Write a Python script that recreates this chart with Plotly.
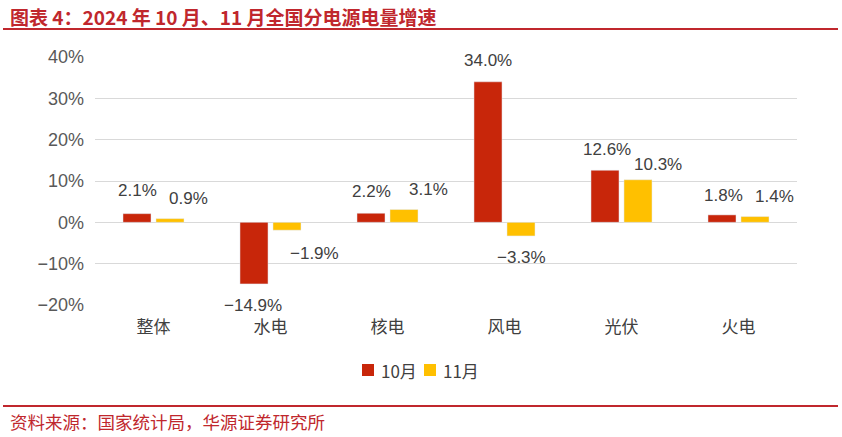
import plotly.graph_objects as go

categories = ["整体", "水电", "核电", "风电", "光伏", "火电"]
oct_values = [2.1, -14.9, 2.2, 34.0, 12.6, 1.8]
nov_values = [0.9, -1.9, 3.1, -3.3, 10.3, 1.4]
series_names = ["10月", "11月"]
y_ticks = [-20, -10, 0, 10, 20, 30, 40]
y_tick_text = ["\u221220%", "\u221210%", "0%", "10%", "20%", "30%", "40%"]

# style: label nudges (pixels) as placed in the reference
oct_dx = [0, -1, 0, 0, 2, 1.5]
oct_dy = [23, -21.5, 22, 21.5, 21, 19]
nov_dx = [18.5, 27.5, 24.5, 0, 19.5, 19.5]
nov_dy = [20, -23, 20, -22, 15.5, 20.5]

RED = "#C8260A"
YEL = "#FFC000"
TITLE_RED = "#C0272D"
NUM_FONT = "Liberation Sans, Arial, Noto Sans CJK SC, sans-serif"
CJK_FONT = "Noto Sans CJK SC, Liberation Sans, sans-serif"

W, H = 842, 437
plot_l, plot_r, plot_t, plot_b = 95, 797, 57, 305


def px_to_paper_x(px):
    return (px - plot_l) / (plot_r - plot_l)


def px_to_paper_y(py):
    return (plot_b - py) / (plot_b - plot_t)


colors = [RED, YEL]
fig = go.Figure()
fig.add_trace(go.Bar(x=categories, y=oct_values, name=series_names[0], marker_color=colors[0]))
fig.add_trace(go.Bar(x=categories, y=nov_values, name=series_names[1], marker_color=colors[1]))


def fmt(v):
    s = f"{abs(v):.1f}%"
    return ("\u2212" + s) if v < 0 else s


annotations = []
for vals, base, dxs, dys in ((oct_values, -16.5, oct_dx, oct_dy), (nov_values, 16.5, nov_dx, nov_dy)):
    for c, v, dx, dy in zip(categories, vals, dxs, dys):
        annotations.append(dict(
            x=c, y=v, xref="x", yref="y", text=fmt(v), showarrow=False,
            xanchor="center", yanchor="middle", xshift=base + dx, yshift=dy,
            font=dict(family=NUM_FONT, size=17, color="#404040")))

annotations.append(dict(
    x=px_to_paper_x(8), y=px_to_paper_y(17), xref="paper", yref="paper",
    text="<b>图表 4：2024 年 10 月、11 月全国分电源电量增速</b>",
    showarrow=False, xanchor="left", yanchor="middle",
    font=dict(family=CJK_FONT, size=19, color=TITLE_RED)))
annotations.append(dict(
    x=px_to_paper_x(8), y=px_to_paper_y(421), xref="paper", yref="paper",
    text="资料来源：国家统计局，华源证券研究所",
    showarrow=False, xanchor="left", yanchor="middle",
    font=dict(family=CJK_FONT, size=17.5, color=TITLE_RED)))

shapes = []
for yy in (29, 406):
    shapes.append(dict(type="line", xref="paper", yref="paper",
                       x0=px_to_paper_x(3), x1=px_to_paper_x(838),
                       y0=px_to_paper_y(yy), y1=px_to_paper_y(yy),
                       line=dict(color=TITLE_RED, width=2)))

# manual legend (squares + labels) to match the reference's tight spacing
legend_x0 = [362, 424]
legend_y = 370
for name, col, lx in zip(series_names, colors, legend_x0):
    shapes.append(dict(type="rect", xref="paper", yref="paper",
                       x0=px_to_paper_x(lx), x1=px_to_paper_x(lx + 12),
                       y0=px_to_paper_y(legend_y + 6), y1=px_to_paper_y(legend_y - 6),
                       fillcolor=col, line=dict(width=0)))
    annotations.append(dict(
        x=px_to_paper_x(lx + 17), y=px_to_paper_y(legend_y), xref="paper", yref="paper",
        text=name, showarrow=False, xanchor="left", yanchor="middle",
        font=dict(family=CJK_FONT, size=17, color="#404040")))

fig.update_layout(
    width=W, height=H,
    margin=dict(l=plot_l, r=W - plot_r, t=plot_t, b=H - plot_b),
    paper_bgcolor="white", plot_bgcolor="white",
    bargap=0.436, bargroupgap=0.15,
    showlegend=False,
    xaxis=dict(showgrid=False, showline=False, ticks="", ticklabelstandoff=10,
               tickfont=dict(family=CJK_FONT, size=17, color="#404040")),
    yaxis=dict(range=[-20, 40], tickmode="array", tickvals=y_ticks, ticktext=y_tick_text,
               showgrid=True, gridcolor="#D9D9D9", gridwidth=1,
               zeroline=True, zerolinecolor="#D9D9D9", zerolinewidth=1,
               showline=False, ticks="", ticklabelstandoff=10,
               tickfont=dict(family=NUM_FONT, size=18, color="#595959")),
    annotations=annotations,
    shapes=shapes,
)

fig.write_html("out.html")
